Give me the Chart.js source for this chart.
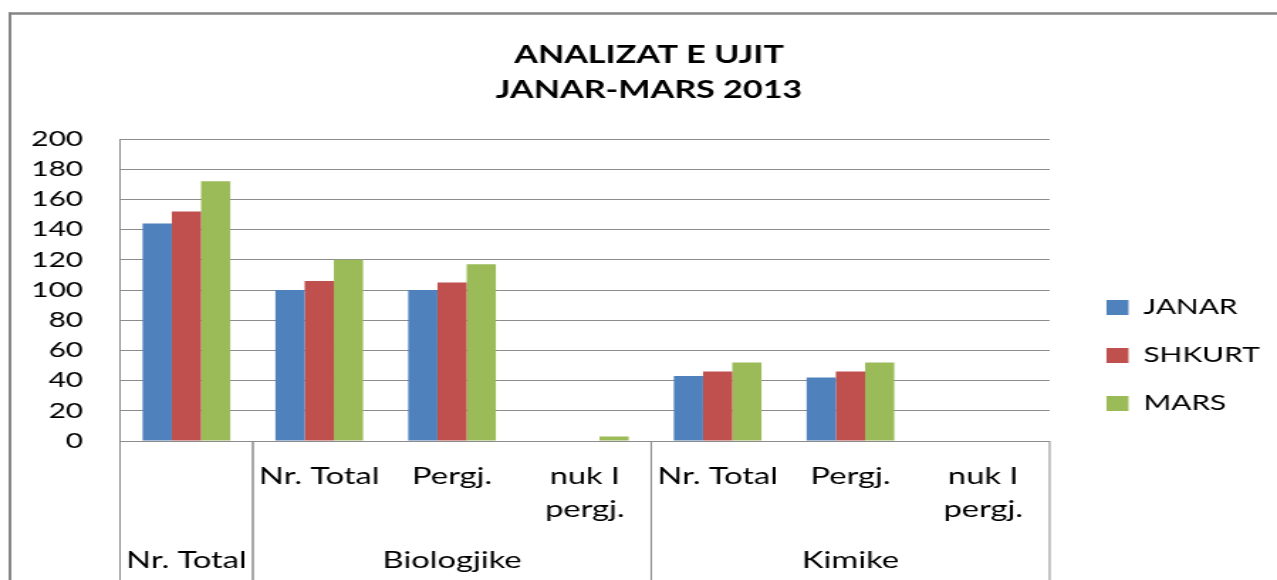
<!DOCTYPE html>
<html>
<head>
<meta charset="utf-8">
<title>Analizat e ujit</title>
<script src="https://cdn.jsdelivr.net/npm/chart.js@4.4.1/dist/chart.umd.min.js"></script>
<style>
  html, body { margin: 0; padding: 0; background: #fff; overflow: hidden; }
</style>
</head>
<body>
<!-- drawn narrow and stretched wide, like the original sheet picture -->
<canvas id="chart" width="899" height="580" style="width:1277px;height:580px"></canvas>
<script>
// data
const subLabels = ['', 'Nr. Total', 'Pergj.', ['nuk I', 'pergj.'], 'Nr. Total', 'Pergj.', ['nuk I', 'pergj.']];
const groupLabels = ['Nr. Total', 'Biologjike', 'Kimike'];
const groupSizes = [1, 3, 3];
const janar = [144, 100, 100, 0, 43, 42, 0];
const shkurt = [152, 106, 105, 0, 46, 46, 0];
const mars = [172, 120, 117, 3, 52, 52, 0];
const yTicks = [0, 20, 40, 60, 80, 100, 120, 140, 160, 180, 200];

const GRID = '#8c8c8c';
const FONT = 'Lato, "Open Sans", sans-serif';

// frame + the second row of the category axis (Excel style grouping)
const groupAxis = {
  id: 'groupAxis',
  beforeDraw(chart) {
    const ctx = chart.ctx;
    ctx.save();
    ctx.fillStyle = '#fff';
    ctx.fillRect(0, 0, chart.width, chart.height);
    ctx.restore();
  },
  afterDraw(chart) {
    const {ctx, chartArea} = chart;
    const x = chart.scales.x;
    ctx.save();

    // outer border
    ctx.strokeStyle = '#858585';
    ctx.lineWidth = 2.5;
    ctx.beginPath();
    ctx.moveTo(6, 13.5);
    ctx.lineTo(chart.width, 13.5);
    ctx.stroke();
    ctx.lineWidth = 2;
    ctx.beginPath();
    ctx.moveTo(7, 12.5);
    ctx.lineTo(7, chart.height);
    ctx.stroke();

    // group dividers and group names
    ctx.strokeStyle = GRID;
    ctx.lineWidth = 1;
    ctx.fillStyle = '#000';
    ctx.font = '23px ' + FONT;
    ctx.textAlign = 'center';
    ctx.textBaseline = 'middle';
    let start = 0;
    const edge = (i) => {
      if (i <= 0) return chartArea.left;
      if (i >= subLabels.length) return chartArea.right;
      return (x.getPixelForValue(i - 1) + x.getPixelForValue(i)) / 2;
    };
    groupSizes.forEach((n, g) => {
      const x0 = edge(start);
      const x1 = edge(start + n);
      ctx.beginPath();
      ctx.moveTo(x0, chartArea.bottom);
      ctx.lineTo(x0, chart.height);
      ctx.moveTo(x1, chartArea.bottom);
      ctx.lineTo(x1, chart.height);
      ctx.stroke();
      ctx.fillText(groupLabels[g], (x0 + x1) / 2, 561);
      start += n;
    });
    ctx.restore();
  }
};

new Chart(document.getElementById('chart'), {
  type: 'bar',
  data: {
    labels: subLabels,
    datasets: [
      { label: 'JANAR', data: janar, backgroundColor: '#4F81BD' },
      { label: 'SHKURT', data: shkurt, backgroundColor: '#C0504D' },
      { label: 'MARS', data: mars, backgroundColor: '#9BBB59' }
    ]
  },
  options: {
    responsive: false,
    animation: false,
    devicePixelRatio: 1,
    layout: { padding: { left: 17, right: 2.2, top: 0, bottom: 0 } },
    datasets: { bar: { categoryPercentage: 0.66, barPercentage: 1 } },
    plugins: {
      title: {
        display: true,
        text: ['ANALIZAT E UJIT', 'JANAR-MARS 2013'],
        color: '#000',
        font: { family: FONT, size: 24, weight: 'bold', lineHeight: 35 / 24 },
        padding: { top: 37.5, bottom: 31.5 }
      },
      legend: {
        position: 'right',
        align: 'end',
        fullSize: false,
        labels: {
          color: '#000',
          font: { family: FONT, size: 21 },
          boxWidth: 15.5,
          boxHeight: 15,
          padding: 27
        }
      },
      tooltip: { enabled: false }
    },
    scales: {
      x: {
        grid: { display: false },
        border: { display: true, color: GRID, width: 1 },
        ticks: {
          color: '#000',
          font: { family: FONT, size: 23, lineHeight: 1.45 },
          padding: 11,
          autoSkip: false,
          maxRotation: 0
        },
        afterFit(s) { s.height = 139; }
      },
      y: {
        min: 0,
        max: 200,
        grid: { color: GRID, drawTicks: false },
        border: { display: true, color: GRID, width: 1 },
        afterBuildTicks(s) { s.ticks = yTicks.map(v => ({ value: v })); },
        ticks: {
          color: '#000',
          font: { family: FONT, size: 21 },
          padding: 26
        },
        afterFit(s) { s.width = 67.5; }
      },
      gap: {
        type: 'linear',
        position: 'right',
        grid: { display: false },
        border: { display: false },
        ticks: { display: false },
        afterFit(s) { s.width = 13; }
      }
    }
  },
  plugins: [groupAxis]
});
</script>
</body>
</html>
